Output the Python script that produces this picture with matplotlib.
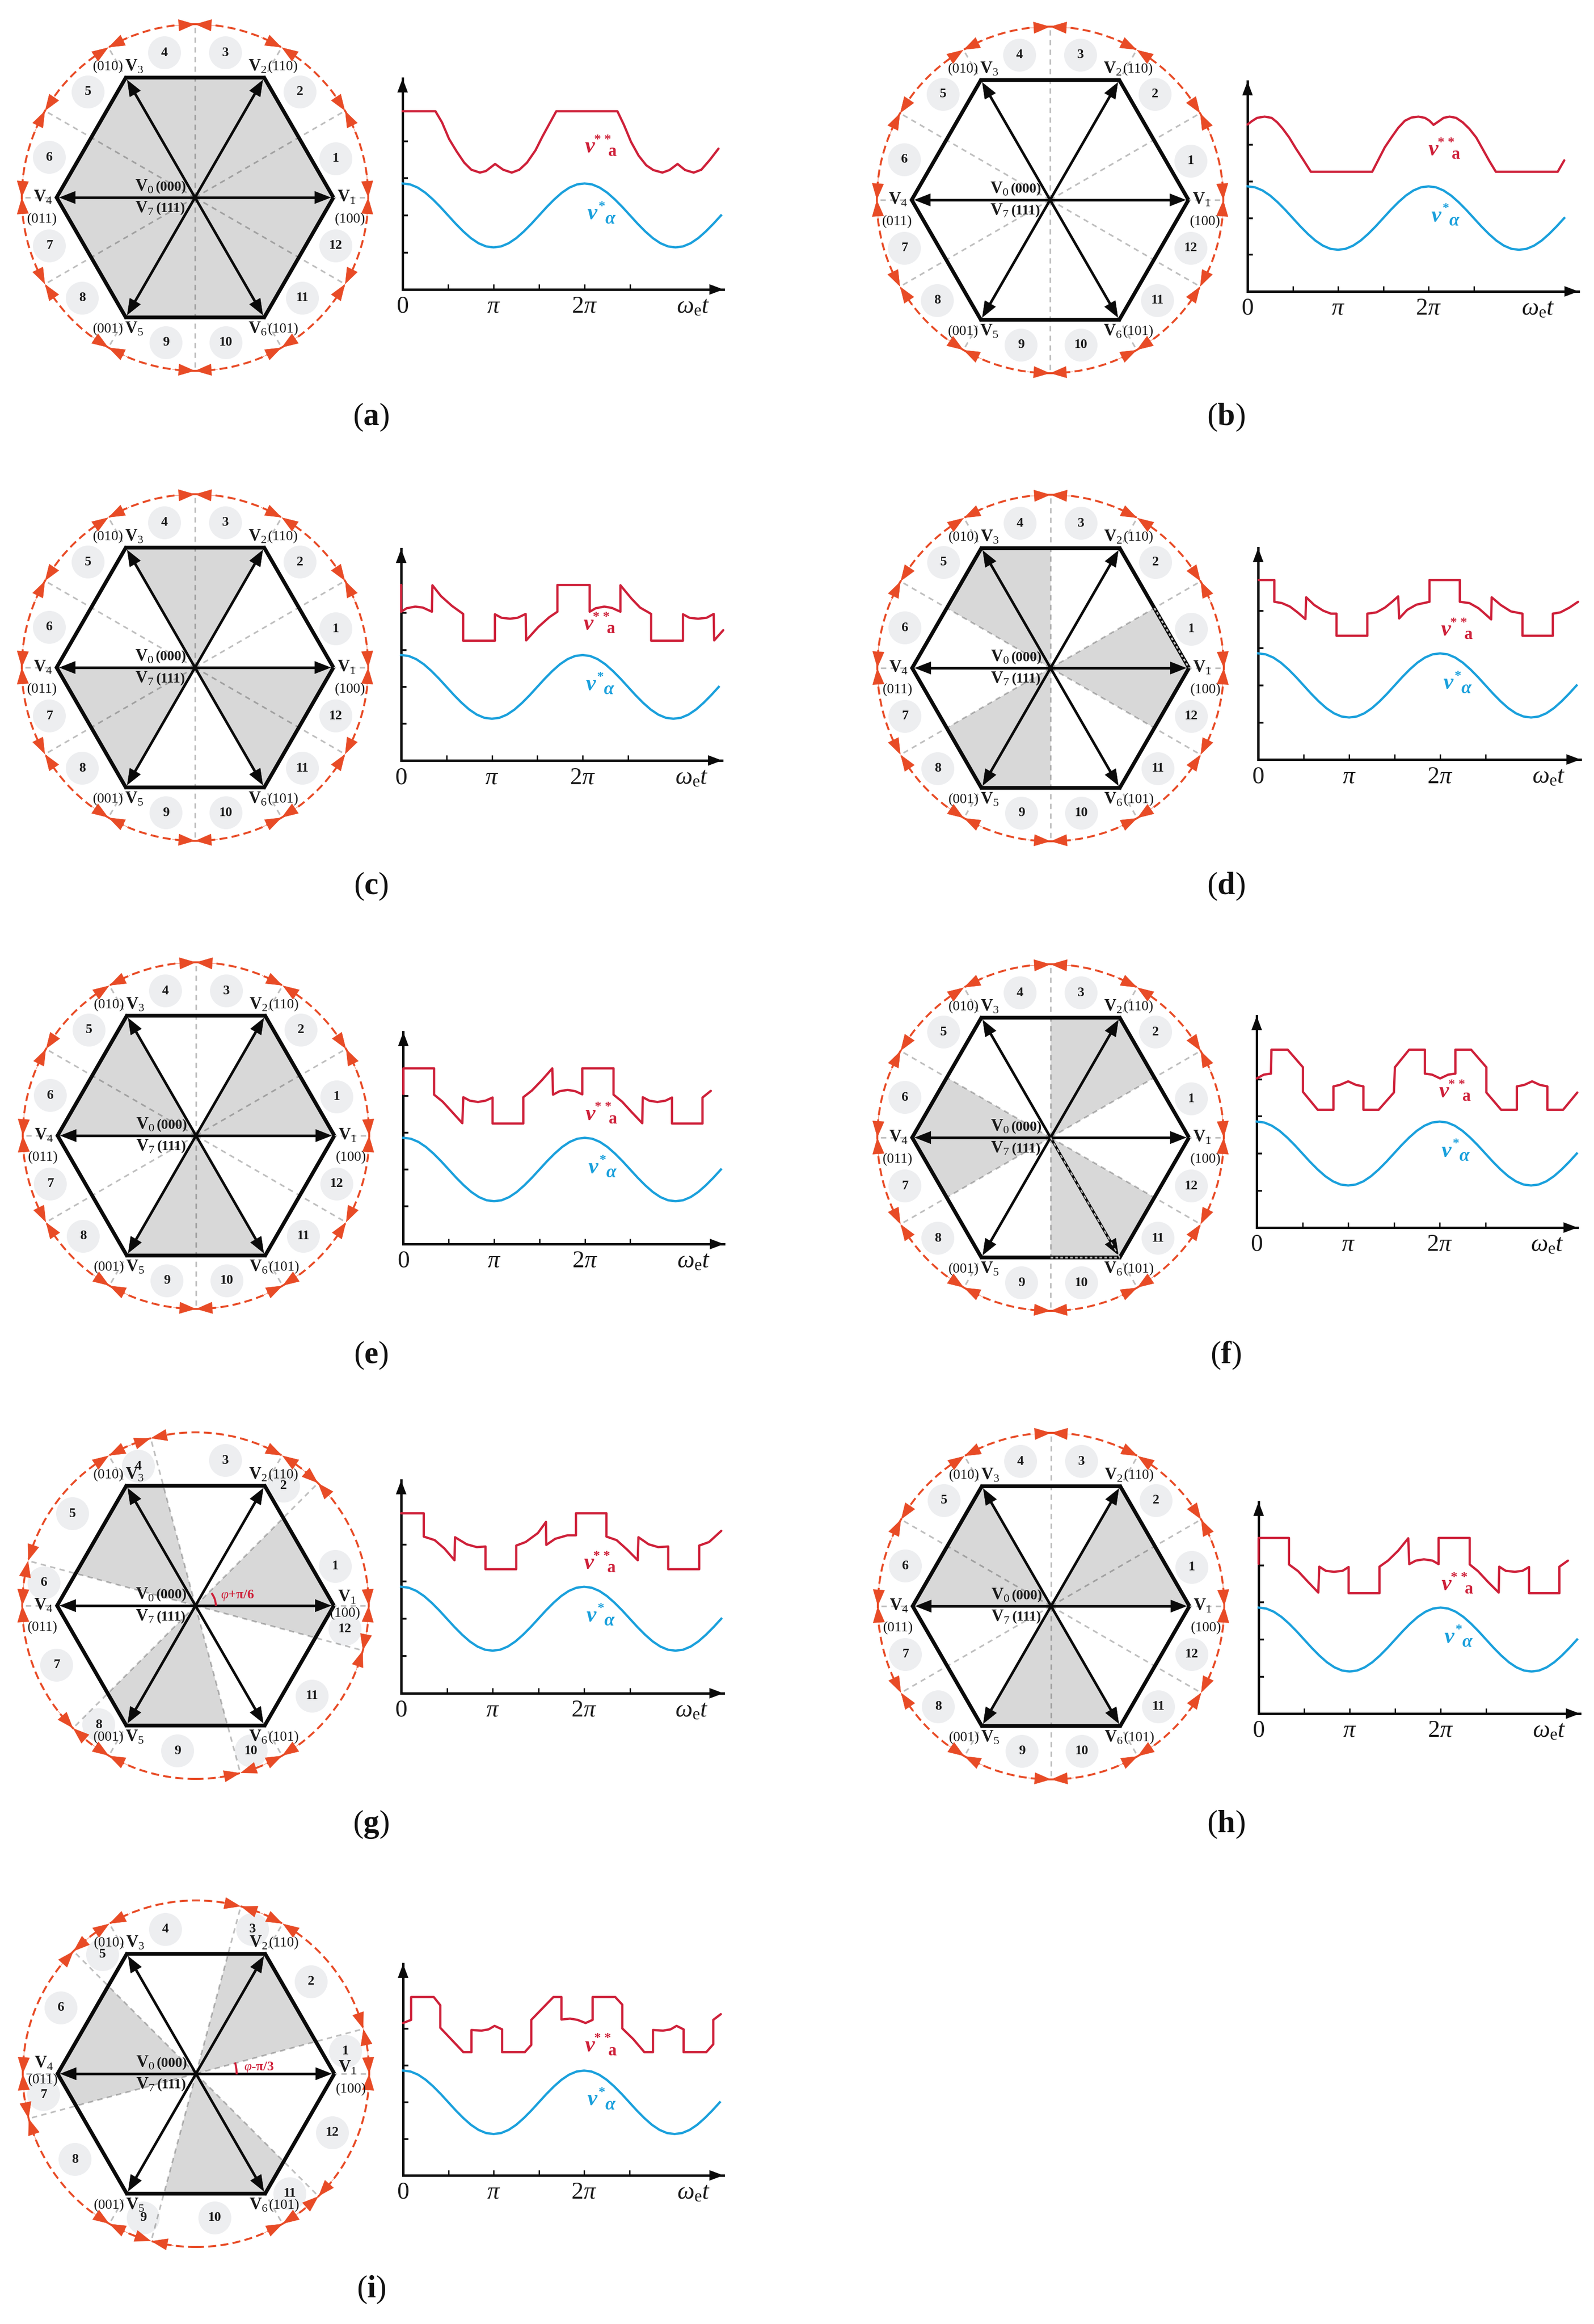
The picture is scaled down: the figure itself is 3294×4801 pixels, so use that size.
import numpy as np
import matplotlib
matplotlib.use("Agg")
import matplotlib.pyplot as plt
from matplotlib.patches import Circle, Wedge, Polygon, FancyArrowPatch, Arc

plt.rcParams['font.family'] = ['Liberation Serif', 'DejaVu Serif']
plt.rcParams['mathtext.fontset'] = 'custom'
plt.rcParams['mathtext.rm'] = 'Liberation Serif'
plt.rcParams['mathtext.it'] = 'Liberation Serif:italic'
plt.rcParams['mathtext.bf'] = 'Liberation Serif:bold'

W, H = 3294, 4801

# ---------- data ----------
panel_names = ['a', 'b', 'c', 'd', 'e', 'f', 'g', 'h', 'i']

# blue reference v*_alpha, sampled every 15 degrees of the time axis
blue_deg = [0, 15, 30, 45, 60, 75, 90, 105, 120, 135, 150, 165, 180, 195, 210, 225, 240, 255, 270, 285, 300, 315,
            330, 345, 360, 375, 390, 405, 420, 435, 450, 465, 480, 495, 510, 525, 540, 555, 570, 585, 600, 615, 630]
blue_val = [1.00, .97, .87, .71, .50, .26, .00, -.26, -.50, -.71, -.87, -.97, -1.00, -.97, -.87, -.71, -.50, -.26,
            .00, .26, .50, .71, .87, .97, 1.00, .97, .87, .71, .50, .26, .00, -.26, -.50, -.71, -.87, -.97,
            -1.00, -.97, -.87, -.71, -.50, -.26, .00]

red_x_a = [0, 65, 78, 92, 107, 122, 136, 153, 165, 183, 199, 216, 231, 246, 263, 277, 304, 425, 438, 452, 467, 482, 496,
           514, 528, 544, 559, 576, 591, 608, 625]
red_y_a = [3.26, 3.26, 2.91, 2.39, 2.00, 1.65, 1.43, 1.34, 1.39, 1.61, 1.43, 1.34, 1.43, 1.65, 2.04, 2.48, 3.26, 3.26,
           2.83, 2.30, 1.87, 1.57, 1.42, 1.34, 1.42, 1.61, 1.42, 1.34, 1.43, 1.74, 2.09]

red_x_b = [0, 8, 19, 34, 48, 59, 70, 83, 96, 110, 126, 248, 260, 273, 287, 300, 313, 326, 340, 353, 362, 370, 382, 390,
           402, 415, 428, 441, 455, 468, 481, 494, 617, 630]
red_y_b = [2.95, 3.05, 3.16, 3.20, 3.16, 3.02, 2.82, 2.54, 2.20, 1.86, 1.46, 1.46, 1.83, 2.23, 2.56, 2.85, 3.07, 3.17,
           3.20, 3.16, 3.07, 2.94, 3.07, 3.16, 3.20, 3.16, 3.02, 2.82, 2.54, 2.17, 1.80, 1.46, 1.46, 1.82]

red_x_c = [0, 0, 11, 28, 43, 61, 62, 79, 101, 123, 123, 186, 186, 199, 216, 231, 247, 248, 272, 294, 310, 310, 374, 374,
           386, 403, 418, 435, 435, 457, 474, 496, 496, 559, 559, 572, 589, 606, 620, 621, 639]
red_y_c = [3.20, 2.36, 2.47, 2.52, 2.49, 2.36, 3.19, 2.85, 2.54, 2.29, 1.45, 1.45, 2.28, 2.17, 2.14, 2.17, 2.29, 1.46,
           1.88, 2.19, 2.36, 3.20, 3.20, 2.36, 2.47, 2.52, 2.48, 2.36, 3.19, 2.77, 2.49, 2.29, 1.45, 1.45, 2.28, 2.17,
           2.14, 2.17, 2.29, 1.46, 1.78]

red_x_d = [1, 32, 32, 47, 63, 78, 93.5, 95, 111, 129, 144, 155, 155, 216, 216, 234, 251, 265, 277, 279, 295, 313, 339,
           339, 399, 399, 418, 436, 449, 461, 462, 480, 500, 523, 523, 583, 583, 598, 616, 633]
red_y_d = [3.29, 3.29, 2.61, 2.57, 2.46, 2.28, 2.07, 2.75, 2.51, 2.33, 2.24, 2.24, 1.55, 1.55, 2.24, 2.28, 2.43, 2.61,
           2.78, 2.09, 2.36, 2.52, 2.61, 3.29, 3.29, 2.61, 2.57, 2.41, 2.23, 2.06, 2.75, 2.51, 2.31, 2.24, 1.55, 1.55,
           2.24, 2.28, 2.43, 2.61]

red_x_e = [0, 0, 61, 61, 78, 97, 117, 119, 132, 148, 163, 177, 177, 238, 238, 255, 275, 295.5, 297, 310, 326, 341, 355,
           355, 417, 417, 434, 453, 474, 475, 488, 504, 520, 533, 533, 593.5, 593.5, 610]
red_y_e = [2.38, 3.19, 3.19, 2.36, 2.14, 1.81, 1.46, 2.28, 2.17, 2.13, 2.17, 2.27, 1.45, 1.45, 2.28, 2.49, 2.82, 3.19,
           2.36, 2.47, 2.51, 2.47, 2.37, 3.19, 3.19, 2.36, 2.14, 1.81, 1.46, 2.28, 2.17, 2.13, 2.17, 2.27, 1.45, 1.45,
           2.27, 2.48]

red_x_f = [0, 14, 28, 29, 61, 91, 91, 120, 151, 151, 164, 180, 195, 210, 210, 240, 270, 272, 300, 331, 331, 345, 361,
           377, 391, 391, 422, 452, 452, 481, 512, 512, 527, 542, 557, 572, 572, 603, 631]
red_y_f = [2.35, 2.47, 2.50, 3.25, 3.25, 2.70, 1.93, 1.37, 1.37, 2.10, 2.15, 2.26, 2.15, 2.10, 1.37, 1.37, 1.91, 2.70,
           3.25, 3.25, 2.50, 2.47, 2.35, 2.47, 2.50, 3.25, 3.25, 2.70, 1.91, 1.37, 1.37, 2.10, 2.15, 2.26, 2.15, 2.10,
           1.37, 1.37, 1.91]

red_x_g = [0, 44.5, 44.5, 66, 85, 105, 106, 129, 149, 166, 166, 226.5, 226.5, 245, 269, 285, 285.6, 303, 327, 344, 344,
           404, 404, 424, 445, 465.6, 467, 487, 506, 525.6, 525.6, 586.6, 586.6, 606, 630]
red_y_g = [3.30, 3.30, 2.57, 2.46, 2.20, 1.83, 2.55, 2.33, 2.24, 2.26, 1.55, 1.55, 2.29, 2.40, 2.68, 3.03, 2.31, 2.50,
           2.61, 2.61, 3.30, 3.30, 2.57, 2.46, 2.16, 1.83, 2.55, 2.33, 2.24, 2.26, 1.55, 1.55, 2.29, 2.40, 2.75]

red_x_h = [0, 0, 60, 60, 78, 98, 118, 120, 133, 149, 166, 178, 178, 239, 239, 256, 276, 296, 298, 311, 327, 344, 356,
           356, 417.6, 417.6, 434, 454, 475, 476, 489, 507, 522, 535, 535, 595, 595, 612]
red_y_h = [2.37, 3.18, 3.18, 2.35, 2.14, 1.80, 1.47, 2.28, 2.15, 2.12, 2.15, 2.27, 1.45, 1.45, 2.28, 2.47, 2.78, 3.17,
           2.36, 2.47, 2.51, 2.47, 2.36, 3.18, 3.18, 2.35, 2.14, 1.80, 1.47, 2.28, 2.15, 2.12, 2.15, 2.27, 1.45, 1.45,
           2.28, 2.47]

red_x_i = [0, 16, 16, 61, 74, 74, 120, 136, 136, 156, 170, 182, 197, 197, 242, 255, 255, 299, 315, 315, 332, 347, 363,
           377, 377, 422, 436, 436, 458, 480, 497, 497, 517, 532, 544, 558, 558, 603, 617, 617, 632]
red_y_i = [2.50, 2.60, 3.32, 3.32, 3.06, 2.35, 1.58, 1.58, 2.28, 2.26, 2.30, 2.41, 2.30, 1.58, 1.58, 1.81, 2.60, 3.32,
           3.32, 2.61, 2.64, 2.60, 2.50, 2.60, 3.32, 3.32, 3.08, 2.33, 1.99, 1.58, 1.58, 2.28, 2.26, 2.30, 2.41, 2.30,
           1.58, 1.58, 1.83, 2.60, 2.78]

# shaded sectors (degrees) and sector boundaries
shade_a = [(0, 360)]
shade_b = []
shade_c = [(60, 120), (180, 240), (300, 360)]
shade_d = [(-30, 30), (90, 150), (210, 270)]
shade_e = [(0, 60), (120, 180), (240, 300)]
shade_f = [(30, 90), (150, 210), (270, 330)]
shade_g = [(-15, 45), (105, 165), (225, 285)]
shade_h = [(0, 60), (120, 180), (240, 300)]
shade_i = [(15, 75), (135, 195), (255, 315)]

rays_regular = [0, 30, 60, 90, 120, 150, 180, 210, 240, 270, 300, 330]
rays_g = [0, 45, 60, 105, 120, 165, 180, 225, 240, 285, 300, 345]
rays_i = [0, 15, 60, 75, 120, 135, 180, 195, 240, 255, 300, 315]

sector_labels = ['1', '2', '3', '4', '5', '6', '7', '8', '9', '10', '11', '12']
state_labels = ['(100)', '(110)', '(010)', '(011)', '(001)', '(101)']
axis_labels = ['0', '', r'$\pi$', '', r'$2\pi$', '']
axis_ticks = [0, 90, 180, 270, 360, 450]
value_ticks = [-1.16, 0, 1.16, 2.32]

# ---------- layout (pixels of the final image) ----------
bub_regular = [(291, 80), (217, 218), (63, 299), (-63, 299), (-221, 218), (-301, 83),
               (-301, -100), (-233, -208), (-60, -300), (64, -300), (222, -208), (291, -100)]
bub_g = [(289, 81), (182, 247), (62, 300), (-118, 288), (-254, 190), (-313, 47),
         (-287, -123), (-200, -246), (-37, -300), (115, -300), (241, -187), (309, -49)]
bub_i = [(309, 46), (238, 190), (117, 298), (-63, 298), (-193, 246), (-279, 136),
         (-315, -43), (-250, -177), (-109, -298), (39, -298), (194, -248), (282, -122)]

hex_centre = dict(a=(403, 408), b=(2170, 413), c=(403, 1379), d=(2171, 1380), e=(405, 2346),
                  f=(2171, 2350), g=(404, 3317), h=(2172, 3318), i=(405, 4284))
# x of y axis, y of x axis, pixels per pi, centre of blue, amplitude of blue, arrow tips
chart = dict(a=(832, 598, 188, 445, 66, 162, 1495), b=(2578, 602, 187, 450.5, 65.5, 168, 3262),
             c=(829, 1571, 187.5, 1419, 65.8, 1134, 1492), d=(2600, 1569, 188, 1416, 66.2, 1132, 3266),
             e=(833.5, 2570, 187.5, 2416, 65.5, 2132, 1496), f=(2597, 2536, 189, 2383, 66, 2099, 3260),
             g=(829, 3498, 189, 3344, 66, 3058, 1495), h=(2601, 3540, 188, 3387, 66, 3102.5, 3265),
             i=(833, 4494, 187, 4343, 65.5, 4057, 1495))
v_red = dict(a=(1219, 304), b=(2962, 310), c=(1216, 1290), d=(2988, 1302), e=(1220, 2303), f=(2984, 2256),
             g=(1217, 3230), h=(2989, 3274), i=(1219, 4227))
v_blue = dict(a=(1224, 442), b=(2968, 447), c=(1220.5, 1415), d=(2992.5, 1412), e=(1226, 2412.5), f=(2989, 2379),
              g=(1222, 3339), h=(2994.5, 3383), i=(1224, 4338))
tag_pos = dict(a=(767, 862), b=(2533, 862), c=(767, 1831), d=(2533, 1831), e=(767, 2800), f=(2533, 2800),
               g=(767, 3769), h=(2533, 3769), i=(767, 4730))

RED_ARC = '#E84B26'
RED = '#CE2039'
BLUE = '#1AA0DC'
BUB = '#EDEEF0'
SHADE = '#D8D8D8'
HEXR = 286.0
CIRC = 358.0
BOX = 420.0

fig = plt.figure(figsize=(W / 100, H / 100), dpi=100)


def head(ax, start, tip, hl, hw, color='#0A0A0A', coords='data', z=6):
    ar = FancyArrowPatch(start, tip, arrowstyle=f'-|>,head_length={hl},head_width={hw}', mutation_scale=10,
                         shrinkA=0, shrinkB=0, lw=0.5, color=color, zorder=z, clip_on=False,
                         transform=ax.transAxes if coords == 'axes' else ax.transData)
    ax.add_patch(ar)


def draw_hex(name):
    cx, cy = hex_centre[name]
    ax = fig.add_axes([(cx - BOX) / W, 1 - (cy + BOX) / H, 2 * BOX / W, 2 * BOX / H])
    ax.set_xlim(-BOX, BOX)
    ax.set_ylim(-BOX, BOX)
    ax.axis('off')
    ang = np.deg2rad(np.arange(0, 360, 60))
    vx, vy = HEXR * np.cos(ang), HEXR * np.sin(ang)
    rays = {'g': rays_g, 'i': rays_i}.get(name, rays_regular)
    bubs = {'g': bub_g, 'i': bub_i}.get(name, bub_regular)

    # bubbles
    for (bx, by) in bubs:
        ax.add_patch(Circle((bx, by), 34, fc=BUB, ec='none', zorder=1))
    # shading
    hexp = Polygon(np.c_[vx, vy], closed=True, fc='none', ec='none', zorder=2)
    ax.add_patch(hexp)
    for t1, t2 in globals()['shade_' + name]:
        w = Wedge((0, 0), 340, t1, t2, fc=SHADE, ec='none', zorder=2)
        ax.add_patch(w)
        w.set_clip_path(hexp)
    # rays
    for t in rays:
        r = np.deg2rad(t)
        ax.plot([0, CIRC * np.cos(r)], [0, CIRC * np.sin(r)], color='black', alpha=0.25, lw=2.4,
                ls=(0, (3.3, 2.7)), zorder=3, dash_capstyle='butt')
    # red circle
    ax.add_patch(Circle((0, 0), CIRC, fc='none', ec=RED_ARC, lw=2.9, ls=(0, (4.1, 2.2)), zorder=3))
    for t in rays:
        for s in (-1, 1):
            tt = np.deg2rad(t + s * 7.5)
            rr = np.deg2rad(t)
            head(ax, (CIRC * np.cos(tt), CIRC * np.sin(tt)), (CIRC * np.cos(rr), CIRC * np.sin(rr)),
                 2.35, 0.85, color=RED_ARC, z=4)
    # spokes and arrows
    for x, y in zip(vx, vy):
        u = np.array([x, y]) / HEXR
        ax.plot([0, u[0] * 255], [0, u[1] * 255], color='#0A0A0A', lw=3.9, zorder=5, solid_capstyle='butt')
        head(ax, tuple(u * 235), tuple(u * 281), 2.35, 0.92)
    # hexagon outline
    ax.plot(np.r_[vx, vx[0]], np.r_[vy, vy[0]], color='#0A0A0A', lw=5.6, zorder=5,
            solid_joinstyle='miter', solid_capstyle='butt')
    # dashed highlights
    if name == 'd':
        ax.plot([214.5, 286], [123.8, 0], color='#BBBBBB', lw=2.6, ls=(0, (1.5, 1.3)), zorder=6)
    if name == 'f':
        ax.plot([0, 143], [-247.7, -247.7], color='#BBBBBB', lw=2.6, ls=(0, (1.5, 1.3)), zorder=6)
        ax.plot([0, 143], [0, -247.7], color='#BBBBBB', lw=2.0, ls=(0, (2.5, 2.5)), zorder=6)
    # labels
    vfs, sfs = 25, 21
    dy1 = {'g': 17, 'i': 12}.get(name, 0)
    dy4 = {'i': 21}.get(name, 0)
    dys1 = {'g': -16, 'i': -32}.get(name, -45)
    dys4 = {'i': -13}.get(name, -45)
    dx1s = {'g': 309}.get(name, 320)
    vtxt = [(313, dy1, 1), (129, 270, 2), (-126, 270, 3), (-314, dy4, 4), (-126, -272, 5), (129, -272, 6)]
    stxt = [(dx1s, dys1), (182, 270), (-180, 270), (-316, dys4), (-180, -272), (182, -272)]
    for (x, y, k), (sx, sy), lab in zip(vtxt, stxt, state_labels):
        ax.text(x, y, rf'$\mathbf{{V}}_{{{k}}}$', fontsize=vfs, ha='center', va='center', color='#1A1A1A', zorder=7)
        ax.text(sx, sy, lab, fontsize=sfs, ha='center', va='center', color='#1A1A1A', zorder=7)
    ax.text(-105, 22, r'$\mathbf{V}_{0}$', fontsize=vfs, ha='center', va='center', color='#1A1A1A', zorder=7)
    ax.text(-50, 22, '(000)', fontsize=sfs, fontweight='bold', ha='center', va='center', color='#1A1A1A', zorder=7)
    ax.text(-105, -23, r'$\mathbf{V}_{7}$', fontsize=vfs, ha='center', va='center', color='#1A1A1A', zorder=7)
    ax.text(-50, -23, '(111)', fontsize=sfs, fontweight='bold', ha='center', va='center', color='#1A1A1A', zorder=7)
    for (bx, by), lab in zip(bubs, sector_labels):
        ax.text(bx, by, lab, fontsize=20, fontweight='bold', ha='center', va='center', color='#1A1A1A', zorder=7)
    # angle marks
    if name == 'g':
        ax.add_patch(Arc((0, 0), 84, 84, theta1=0, theta2=38, color=RED, lw=3.0, zorder=7))
        ax.text(87, 21, r'$\varphi$+π/6', fontsize=20, fontweight='bold', color=RED, ha='center', va='center', zorder=7)
    if name == 'i':
        ax.add_patch(Arc((0, 0), 168, 168, theta1=-1, theta2=16, color=RED, lw=3.0, zorder=7))
        ax.text(130, 13, r'$\varphi$-π/3', fontsize=20, fontweight='bold', color=RED, ha='center', va='center', zorder=7)


def draw_chart(name):
    x0, y0, ppi, yc, amp, ytip, xtip = chart[name]
    ax = fig.add_axes([x0 / W, 1 - y0 / H, (xtip - x0) / W, (y0 - ytip) / H])
    ax.patch.set_alpha(0)
    ax.set_xlim(0, (xtip - x0) / ppi * 180)
    ax.set_ylim((yc - y0) / amp, (yc - ytip) / amp)
    for s in ('top', 'right'):
        ax.spines[s].set_visible(False)
    for s in ('left', 'bottom'):
        ax.spines[s].set_linewidth(3.6)
        ax.spines[s].set_color('#0A0A0A')
    ax.set_xticks(axis_ticks)
    ax.set_xticklabels(axis_labels, fontsize=36, color='#1A1A1A')
    ax.set_yticks(value_ticks)
    ax.set_yticklabels([])
    ax.tick_params(axis='x', direction='in', length=8, width=2.0, pad=9, color='#0A0A0A')
    ax.tick_params(axis='y', direction='in', length=8, width=2.6, color='#0A0A0A')
    ax.plot(blue_deg, blue_val, color=BLUE, lw=3.4, clip_on=False, solid_joinstyle='round', zorder=3)
    ax.plot(globals()['red_x_' + name], globals()['red_y_' + name], color=RED, lw=3.4, clip_on=False,
            solid_joinstyle='round', solid_capstyle='round', zorder=3)
    # axis arrows
    head(ax, (0, 0.93), (0, 1.0), 2.0, 0.75, coords='axes')
    head(ax, (0.95, 0), (1.0, 0), 2.0, 0.75, coords='axes')

    def t(px, py, s, **kw):
        fig.text(px / W, 1 - py / H, s, ha='center', va='center', **kw)

    t(x0 + 600, y0 + 36, r'$\omega_{\mathrm{e}}t$', fontsize=36, color='#1A1A1A')
    vx, vy = v_red[name]
    t(vx, vy, 'v', fontsize=33, style='italic', fontweight='bold', color=RED)
    t(vx + 26, vy - 15, '* *', fontsize=20, fontweight='bold', color=RED)
    t(vx + 47, vy + 10, 'a', fontsize=25, fontweight='bold', color=RED)
    vx, vy = v_blue[name]
    t(vx, vy, 'v', fontsize=33, style='italic', fontweight='bold', color=BLUE)
    t(vx + 20, vy - 15, '*', fontsize=20, fontweight='bold', color=BLUE)
    t(vx + 37, vy + 10, 'α', fontsize=27, style='italic', fontweight='bold', color=BLUE)


for n in panel_names:
    draw_hex(n)
    draw_chart(n)
    px, py = tag_pos[n]
    fig.text(px / W, 1 - py / H, rf'($\mathbf{{{n}}}$)', fontsize=47, ha='center', va='center', color='#111111')

fig.savefig('out.png', dpi=100, facecolor='white')
